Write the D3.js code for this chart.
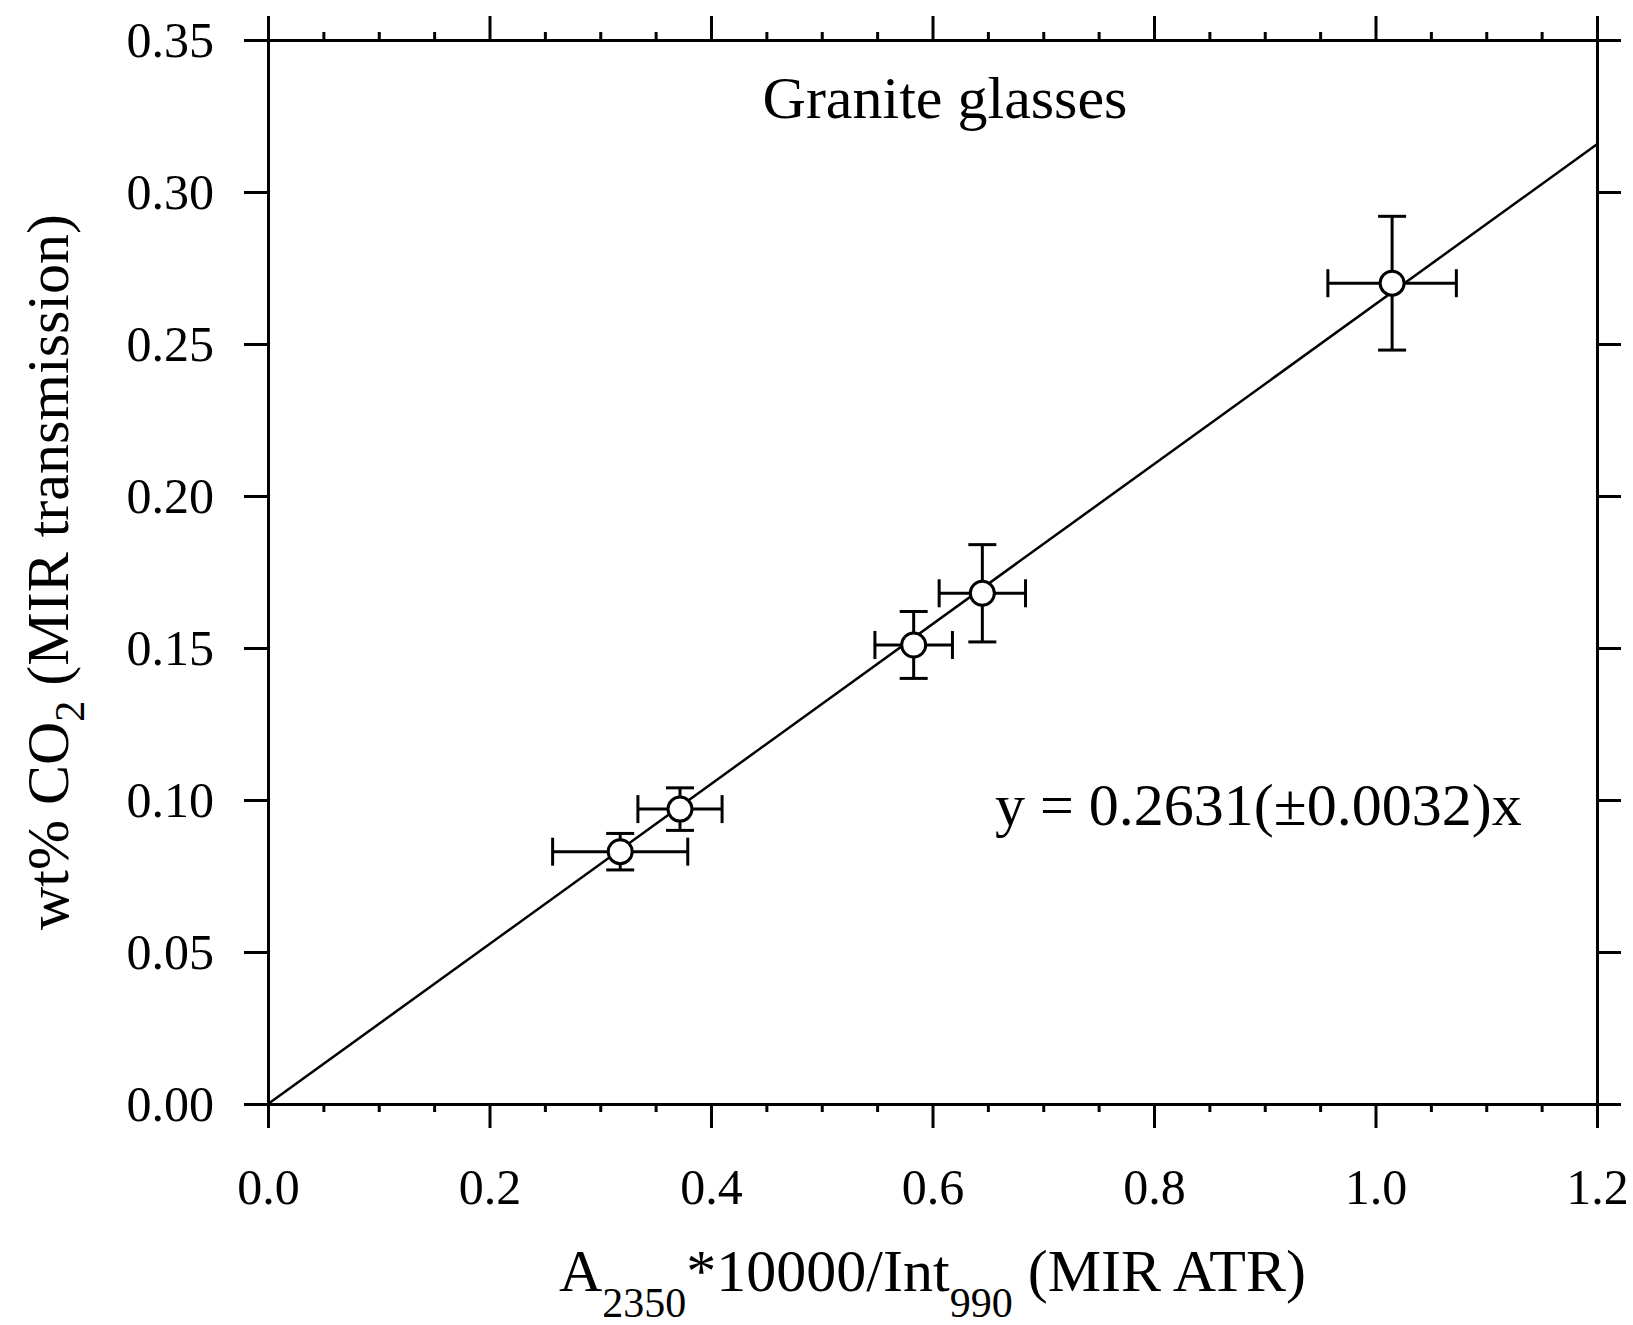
<!DOCTYPE html>
<html>
<head>
<meta charset="utf-8">
<script src="https://cdn.jsdelivr.net/npm/d3@7"></script>
<style>
  body { margin: 0; background: #fff; }
  svg text { font-family: "Liberation Serif", "Times New Roman", serif; fill: #000; }
  .axis path, .axis line { stroke: #000; stroke-width: 3; }
</style>
</head>
<body>
<svg id="chart" width="1633" height="1325"></svg>
<script>
var sampleX = [0.318, 0.372, 0.583, 0.645, 1.015];
var sampleY = [0.083, 0.097, 0.151, 0.168, 0.270];
var errX = [0.061, 0.038, 0.035, 0.039, 0.058];
var errY = [0.006, 0.007, 0.011, 0.016, 0.022];
var slope = 0.2631;
var fitRange = [0, 1.2];
var xTicks = [0, 0.2, 0.4, 0.6, 0.8, 1.0, 1.2];
var xMinor = [0.05, 0.1, 0.15, 0.25, 0.3, 0.35, 0.45, 0.5, 0.55, 0.65, 0.7, 0.75, 0.85, 0.9, 0.95, 1.05, 1.1, 1.15];
var yTicks = [0, 0.05, 0.1, 0.15, 0.2, 0.25, 0.3, 0.35];

var svg = d3.select('#chart');

var x = d3.scaleLinear().domain([0, 1.2]).range([268, 1597]);
var y = d3.scaleLinear().domain([0, 0.35]).range([1104, 40]);

// note: can't call these top/bottom at global scope (window.top)
var plotL = x.range()[0], plotR = x.range()[1];
var plotT = y.range()[1], plotB = y.range()[0];

// axes: bottom + top with minor ticks, left labelled, right plain
svg.append('g').attr('class', 'axis').attr('transform', 'translate(0,' + plotB + ')')
  .call(d3.axisBottom(x).tickValues(xTicks).tickSize(24).tickSizeOuter(0).tickPadding(40)
    .tickFormat(d3.format('.1f')));
svg.append('g').attr('class', 'axis').attr('transform', 'translate(0,' + plotB + ')')
  .call(d3.axisBottom(x).tickValues(xMinor).tickSize(8).tickSizeOuter(0).tickFormat(''));
svg.append('g').attr('class', 'axis').attr('transform', 'translate(0,' + plotT + ')')
  .call(d3.axisTop(x).tickValues(xTicks).tickSize(24).tickSizeOuter(0).tickFormat(''));
svg.append('g').attr('class', 'axis').attr('transform', 'translate(0,' + plotT + ')')
  .call(d3.axisTop(x).tickValues(xMinor).tickSize(8).tickSizeOuter(0).tickFormat(''));
svg.append('g').attr('class', 'axis').attr('transform', 'translate(' + plotL + ',0)')
  .call(d3.axisLeft(y).tickValues(yTicks).tickSize(24).tickSizeOuter(0).tickPadding(30)
    .tickFormat(d3.format('.2f')));
svg.append('g').attr('class', 'axis').attr('transform', 'translate(' + plotR + ',0)')
  .call(d3.axisRight(y).tickValues(yTicks).tickSize(24).tickSizeOuter(0).tickFormat(''));

svg.selectAll('.axis text').style('font-size', '50px');

// fit line through origin
var line = d3.line().x(function(d) { return x(d); }).y(function(d) { return y(slope * d); });
svg.append('path').datum(fitRange)
  .attr('d', line)
  .attr('fill', 'none').attr('stroke', '#000').attr('stroke-width', 2.5);

// error bars + markers
var pts = sampleX.map(function(v, i) {
  return {x: v, y: sampleY[i], ex: errX[i], ey: errY[i]};
});
var cap = 14;
var g = svg.append('g').attr('stroke', '#000').attr('stroke-width', 3).attr('fill', 'none');
pts.forEach(function(p) {
  var cx = x(p.x), cy = y(p.y);
  var x0 = x(p.x - p.ex), x1 = x(p.x + p.ex);
  var y0 = y(p.y - p.ey), y1 = y(p.y + p.ey);
  g.append('line').attr('x1', x0).attr('x2', x1).attr('y1', cy).attr('y2', cy);
  g.append('line').attr('x1', x0).attr('x2', x0).attr('y1', cy - cap).attr('y2', cy + cap);
  g.append('line').attr('x1', x1).attr('x2', x1).attr('y1', cy - cap).attr('y2', cy + cap);
  g.append('line').attr('x1', cx).attr('x2', cx).attr('y1', y0).attr('y2', y1);
  g.append('line').attr('x1', cx - cap).attr('x2', cx + cap).attr('y1', y0).attr('y2', y0);
  g.append('line').attr('x1', cx - cap).attr('x2', cx + cap).attr('y1', y1).attr('y2', y1);
});
svg.append('g').selectAll('circle')
  .data(pts).enter().append('circle')
  .attr('cx', function(d) { return x(d.x); })
  .attr('cy', function(d) { return y(d.y); })
  .attr('r', 12)
  .attr('fill', '#fff').attr('stroke', '#000').attr('stroke-width', 3);

// labels
svg.append('text').attr('x', 945).attr('y', 118)
  .attr('text-anchor', 'middle').style('font-size', '60px')
  .text('Granite glasses');

svg.append('text').attr('x', 995).attr('y', 825)
  .style('font-size', '60px')
  .text('y = 0.2631(\u00b10.0032)x');

var xt = svg.append('text').attr('x', (plotL + plotR) / 2).attr('y', 1291)
  .attr('text-anchor', 'middle').style('font-size', '60px');
xt.append('tspan').text('A');
xt.append('tspan').attr('dy', 26).style('font-size', '42px').text('2350');
xt.append('tspan').attr('dy', -26).text('*10000/Int');
xt.append('tspan').attr('dy', 26).style('font-size', '42px').text('990');
xt.append('tspan').attr('dy', -26).text(' (MIR ATR)');

var yt = svg.append('text')
  .attr('transform', 'translate(68,' + ((plotT + plotB) / 2) + ') rotate(-90)')
  .attr('text-anchor', 'middle').style('font-size', '60px');
yt.append('tspan').text('wt% CO');
yt.append('tspan').attr('dy', 16).style('font-size', '42px').text('2');
yt.append('tspan').attr('dy', -16).text(' (MIR transmission)');
</script>
</body>
</html>
